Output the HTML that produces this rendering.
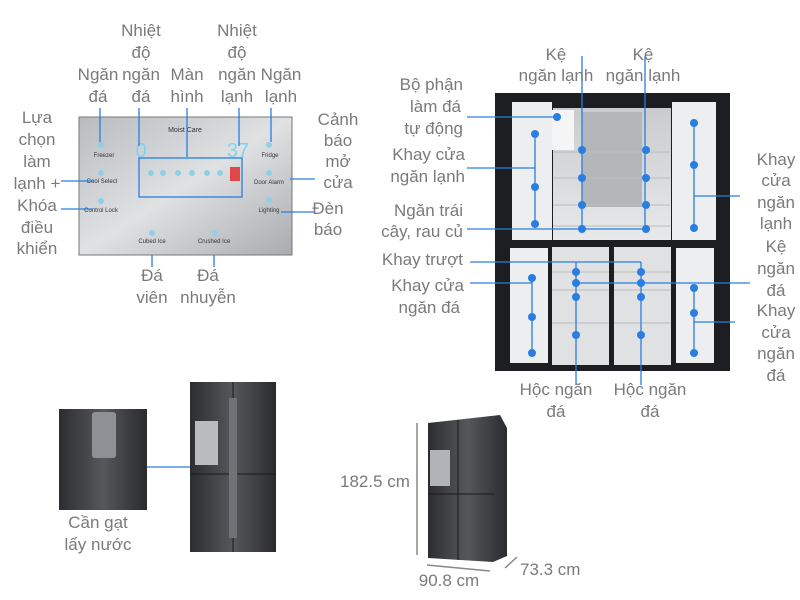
<!DOCTYPE html>
<html><head><meta charset="utf-8"><style>
body{margin:0;background:#fff}
svg{display:block}
text{font-family:"Liberation Sans",sans-serif;font-size:17px;fill:#7a7a7a}
.c{text-anchor:middle}.r{text-anchor:end}
.l{stroke:#2a7de1;stroke-width:1.3;fill:none}
.d{fill:#2a7de1}
</style></head><body>
<svg width="800" height="600" viewBox="0 0 800 600">
<defs>
<linearGradient id="pn" x1="0" y1="0" x2="1" y2="1"><stop offset="0" stop-color="#b9bcbf"/><stop offset=".5" stop-color="#dfe1e3"/><stop offset="1" stop-color="#a9acaf"/></linearGradient>
<linearGradient id="st" x1="0" y1="0" x2="1" y2="0"><stop offset="0" stop-color="#2c2d30"/><stop offset=".5" stop-color="#55575b"/><stop offset="1" stop-color="#2a2b2e"/></linearGradient>
<linearGradient id="in" x1="0" y1="0" x2="0" y2="1"><stop offset="0" stop-color="#c9cbcd"/><stop offset="1" stop-color="#e8e9ea"/></linearGradient>
</defs>
<!-- control panel -->
<rect x="79" y="117" width="213" height="138" fill="url(#pn)" stroke="#777" stroke-width="1"/>
<text x="185" y="132" class="c" style="font-size:7px;fill:#333">Moist Care</text>
<text x="141" y="157" class="c" style="font-size:20px;fill:#7fd3ef">0</text>
<text x="238" y="157" class="c" style="font-size:20px;fill:#7fd3ef">37</text>
<rect x="139" y="158" width="103" height="39" fill="none" class="l"/>
<rect x="230" y="167" width="10" height="14" fill="#e04848"/>
<text x="104" y="157" class="c" style="font-size:6px;fill:#333">Freezer</text><text x="102" y="183" class="c" style="font-size:6px;fill:#333">Cool Select</text><text x="101" y="212" class="c" style="font-size:6px;fill:#333">Control Lock</text><text x="270" y="157" class="c" style="font-size:6px;fill:#333">Fridge</text><text x="269" y="184" class="c" style="font-size:6px;fill:#333">Door Alarm</text><text x="269" y="212" class="c" style="font-size:6px;fill:#333">Lighting</text><text x="152" y="243" class="c" style="font-size:6px;fill:#333">Cubed Ice</text><text x="214" y="243" class="c" style="font-size:6px;fill:#333">Crushed Ice</text>
<g fill="#8fd0e8"><circle cx="151" cy="173" r="3"/><circle cx="163" cy="173" r="3"/><circle cx="178" cy="173" r="3"/><circle cx="192" cy="173" r="3"/><circle cx="207" cy="173" r="3"/><circle cx="220" cy="173" r="3"/><circle cx="101" cy="145" r="3"/><circle cx="101" cy="173" r="3"/><circle cx="101" cy="201" r="3"/><circle cx="269" cy="145" r="3"/><circle cx="269" cy="173" r="3"/><circle cx="269" cy="200" r="3"/><circle cx="152" cy="233" r="3"/><circle cx="215" cy="233" r="3"/></g>
<path class="l" d="M100 108V142M139 108V146M187 108V157M239 108V146M271 108V142M61 181H93M61 209H93M281 212H315M290 179H315M152 255V267M214 255V267"/>
<text class="c" x="141" y="36">Nhiệt</text><text class="c" x="141" y="58">độ</text><text class="c" x="141" y="80">ngăn</text><text class="c" x="141" y="102">đá</text>
<text class="c" x="98" y="80">Ngăn</text><text class="c" x="98" y="102">đá</text>
<text class="c" x="187" y="80">Màn</text><text class="c" x="187" y="102">hình</text>
<text class="c" x="237" y="36">Nhiệt</text><text class="c" x="237" y="58">độ</text><text class="c" x="237" y="80">ngăn</text><text class="c" x="237" y="102">lạnh</text>
<text class="c" x="281" y="80">Ngăn</text><text class="c" x="281" y="102">lạnh</text>
<text class="c" x="37" y="123">Lựa</text><text class="c" x="37" y="145">chọn</text><text class="c" x="37" y="167">làm</text><text class="c" x="37" y="189">lạnh +</text><text class="c" x="37" y="211">Khóa</text><text class="c" x="37" y="233">điều</text><text class="c" x="37" y="254">khiển</text>
<text class="c" x="338" y="125">Cảnh</text><text class="c" x="338" y="146">báo</text><text class="c" x="338" y="167">mở</text><text class="c" x="338" y="188">cửa</text>
<text class="c" x="328" y="214">Đèn</text><text class="c" x="328" y="235">báo</text>
<text class="c" x="152" y="281">Đá</text><text class="c" x="152" y="303">viên</text>
<text class="c" x="208" y="281">Đá</text><text class="c" x="208" y="303">nhuyễn</text>
<!-- open fridge -->
<rect x="495" y="93" width="235" height="278" fill="#1d1e21"/>
<rect x="512" y="102" width="40" height="138" fill="#eceeef"/>
<rect x="553" y="108" width="118" height="132" fill="url(#in)"/>
<rect x="582" y="112" width="60" height="95" fill="#b4b7ba"/>
<rect x="672" y="102" width="44" height="138" fill="#eceeef"/>
<rect x="552" y="110" width="22" height="40" fill="#f5f5f5"/>
<rect x="510" y="248" width="38" height="115" fill="#eceeef"/>
<rect x="552" y="247" width="57" height="118" fill="#dfe1e2"/>
<rect x="614" y="247" width="57" height="118" fill="#dfe1e2"/>
<rect x="676" y="248" width="38" height="115" fill="#eceeef"/>
<g stroke="#bbb" stroke-width="1"><path d="M553 152H670M553 178H670M553 205H670M553 226H670M552 272H609M552 290H609M552 323H609M614 272H671M614 290H671M614 323H671"/></g>
<path class="l" d="M582 56V229M645 56V229M467 117H557M467 168H535M535 133V224M467 229H646M470 262H641M576 262V272M641 262V272M470 283H532M532 278V353M576 283H750M694 123V228M694 196H740M694 288V353M694 322H735M576 272V385M641 272V385"/>
<g class="d"><circle cx="557" cy="117" r="4"/><circle cx="535" cy="134" r="4"/><circle cx="535" cy="187" r="4"/><circle cx="535" cy="224" r="4"/><circle cx="582" cy="150" r="4"/><circle cx="582" cy="178" r="4"/><circle cx="582" cy="205" r="4"/><circle cx="646" cy="150" r="4"/><circle cx="646" cy="178" r="4"/><circle cx="646" cy="205" r="4"/><circle cx="582" cy="229" r="4"/><circle cx="646" cy="229" r="4"/><circle cx="694" cy="123" r="4"/><circle cx="694" cy="165" r="4"/><circle cx="694" cy="228" r="4"/><circle cx="576" cy="272" r="4"/><circle cx="641" cy="272" r="4"/><circle cx="576" cy="283" r="4"/><circle cx="641" cy="283" r="4"/><circle cx="576" cy="297" r="4"/><circle cx="641" cy="297" r="4"/><circle cx="576" cy="335" r="4"/><circle cx="641" cy="335" r="4"/><circle cx="532" cy="278" r="4"/><circle cx="532" cy="317" r="4"/><circle cx="532" cy="353" r="4"/><circle cx="694" cy="288" r="4"/><circle cx="694" cy="313" r="4"/><circle cx="694" cy="353" r="4"/></g>
<text class="c" x="556" y="60">Kệ</text><text class="c" x="556" y="81">ngăn lạnh</text>
<text class="c" x="643" y="60">Kệ</text><text class="c" x="643" y="81">ngăn lạnh</text>
<text class="r" x="463" y="90">Bộ phận</text><text class="r" x="461" y="112">làm đá</text><text class="r" x="463" y="134">tự động</text>
<text class="r" x="465" y="160">Khay cửa</text><text class="r" x="465" y="182">ngăn lạnh</text>
<text class="r" x="463" y="216">Ngăn trái</text><text class="r" x="463" y="237">cây, rau củ</text>
<text class="r" x="463" y="265">Khay trượt</text>
<text class="r" x="464" y="291">Khay cửa</text><text class="r" x="460" y="313">ngăn đá</text>
<text class="c" x="776" y="165">Khay</text><text class="c" x="776" y="186">cửa</text><text class="c" x="776" y="208">ngăn</text><text class="c" x="776" y="229">lạnh</text>
<text class="c" x="776" y="252">Kệ</text><text class="c" x="776" y="274">ngăn</text><text class="c" x="776" y="296">đá</text>
<text class="c" x="776" y="316">Khay</text><text class="c" x="776" y="338">cửa</text><text class="c" x="776" y="359">ngăn</text><text class="c" x="776" y="381">đá</text>
<text class="c" x="556" y="395">Hộc ngăn</text><text class="c" x="556" y="417">đá</text>
<text class="c" x="650" y="395">Hộc ngăn</text><text class="c" x="650" y="417">đá</text>
<!-- bottom left -->
<rect x="59" y="409" width="88" height="101" fill="url(#st)"/>
<rect x="92" y="412" width="24" height="46" rx="3" fill="#8d9094"/>
<path class="l" d="M147 467H190"/>
<rect x="190" y="382" width="86" height="170" fill="url(#st)"/>
<path d="M190 474H276M233 382V552" stroke="#1a1a1a"/>
<rect x="195" y="421" width="23" height="44" fill="#b9bcbf"/>
<rect x="229" y="398" width="8" height="140" fill="#6f7276"/>
<text class="c" x="98" y="528">Cần gạt</text><text class="c" x="98" y="550">lấy nước</text>
<!-- bottom right -->
<polygon points="428,423 500,415 507,428 507,556 493,562 428,558" fill="url(#st)"/>
<path d="M428 494H495M458 420V560" stroke="#1a1a1a"/>
<rect x="430" y="450" width="20" height="36" fill="#b0b3b7"/>
<path d="M417 423V555M427 565L490 571M505 568L517 557" stroke="#888" stroke-width="1.5"/>
<text x="340" y="487">182.5 cm</text>
<text class="c" x="449" y="586">90.8 cm</text>
<text x="520" y="575">73.3 cm</text>
</svg>
</body></html>
